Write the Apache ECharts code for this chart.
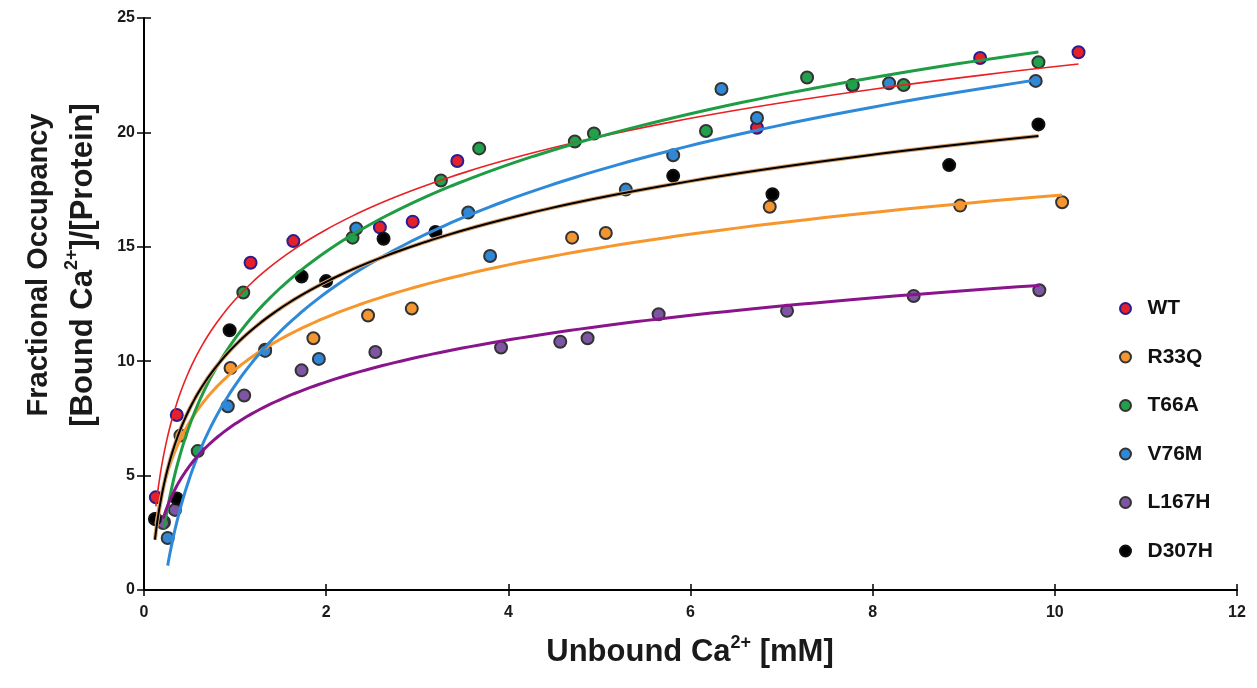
<!DOCTYPE html>
<html>
<head>
<meta charset="utf-8">
<script src="https://cdn.jsdelivr.net/npm/echarts@6/dist/echarts.min.js"></script>
<style>
  html, body { margin: 0; padding: 0; background: #ffffff; }
  #chart { width: 1257px; height: 688px; }
</style>
</head>
<body>
<div id="chart"></div>
<script>
// Calcium binding: [unbound Ca2+ (mM), bound Ca2+ per protein]
const seriesNames = ['WT', 'R33Q', 'T66A', 'V76M', 'L167H', 'D307H'];

const wtPoints = [[0.13, 4.05], [0.36, 7.65], [1.17, 14.3], [1.64, 15.25], [2.59, 15.85], [2.95, 16.1],
  [3.44, 18.75], [6.73, 20.2], [7.78, 22.05], [9.18, 23.25], [10.26, 23.5]];
const r33qPoints = [[0.13, 3.1], [0.40, 6.75], [0.95, 9.7], [1.33, 10.5], [1.86, 11.0], [2.46, 12.0],
  [2.94, 12.3], [4.70, 15.4], [5.07, 15.6], [6.87, 16.75], [8.96, 16.8], [10.08, 16.95]];
const t66aPoints = [[0.22, 2.97], [0.59, 6.07], [1.09, 13.0], [2.29, 15.4], [3.26, 17.9], [3.68, 19.3],
  [4.73, 19.6], [4.94, 19.95], [6.17, 20.06], [7.28, 22.4], [7.78, 22.07], [8.34, 22.07], [9.82, 23.07]];
const v76mPoints = [[0.26, 2.27], [0.92, 8.03], [1.33, 10.45], [1.92, 10.1], [2.33, 15.8], [3.56, 16.5],
  [3.80, 14.6], [5.29, 17.5], [5.81, 19.0], [6.34, 21.9], [6.73, 20.63], [8.18, 22.15], [9.79, 22.25]];
const l167hPoints = [[0.21, 2.93], [0.34, 3.5], [1.10, 8.5], [1.73, 9.6], [2.54, 10.4], [3.92, 10.6],
  [4.57, 10.85], [4.87, 11.0], [5.65, 12.05], [7.06, 12.2], [8.45, 12.85], [9.83, 13.1]];
const d307hPoints = [[0.12, 3.1], [0.36, 4.0], [0.94, 11.35], [1.73, 13.7], [2.0, 13.5], [2.63, 15.35],
  [3.2, 15.65], [5.81, 18.1], [6.9, 17.3], [8.84, 18.57], [9.82, 20.35]];

const xTicks = [0, 2, 4, 6, 8, 10, 12];
const yTicks = [0, 5, 10, 15, 20, 25];

// Styling per variant
const styles = {
  'WT':    { fill: '#e3202b', border: '#2a1d8f', line: '#ea2024', width: 1.6 },
  'R33Q':  { fill: '#f39530', border: '#333333', line: '#f6962c', width: 3 },
  'T66A':  { fill: '#22a04b', border: '#333333', line: '#1f9d44', width: 3 },
  'V76M':  { fill: '#2f87d6', border: '#333333', line: '#2e8ad9', width: 3 },
  'L167H': { fill: '#7e55a2', border: '#333333', line: '#8a148c', width: 3 },
  'D307H': { fill: '#000000', border: '#111111', line: '#000000', width: 2, halo: '#d7a06a' }
};
const pointSets = [wtPoints, r33qPoints, t66aPoints, v76mPoints, l167hPoints, d307hPoints];

// Logarithmic least-squares trend line (y = a*ln(x) + b) over the data's x range
function logTrend(points, steps) {
  const n = points.length;
  let sx = 0, sy = 0, sxx = 0, sxy = 0;
  points.forEach(([x, y]) => { const l = Math.log(x); sx += l; sy += y; sxx += l * l; sxy += l * y; });
  const a = (n * sxy - sx * sy) / (n * sxx - sx * sx);
  const b = (sy - a * sx) / n;
  const xs = points.map(p => p[0]);
  const x0 = Math.min(...xs), x1 = Math.max(...xs);
  const out = [];
  for (let i = 0; i <= steps; i++) {
    const x = x0 * Math.pow(x1 / x0, i / steps);
    out.push([x, a * Math.log(x) + b]);
  }
  return out;
}

const font = '"Liberation Sans", Arial, Helvetica, sans-serif';

const scatterSeries = seriesNames.map((name, i) => ({
  name: name,
  type: 'scatter',
  data: pointSets[i],
  symbol: 'circle',
  symbolSize: 12,
  itemStyle: { color: styles[name].fill, borderColor: styles[name].border, borderWidth: 2, opacity: 1 },
  z: 2
}));

const lineSeries = [];
seriesNames.forEach((name, i) => {
  const st = styles[name];
  const trend = logTrend(pointSets[i], 160);
  if (st.halo) {
    lineSeries.push({
      name: name + ' trend halo', type: 'line', data: trend, showSymbol: false, silent: true,
      lineStyle: { color: st.halo, width: 4 }, z: 3
    });
  }
  lineSeries.push({
    name: name + ' trend', type: 'line', data: trend, showSymbol: false, silent: true,
    lineStyle: { color: st.line, width: st.width }, z: 3
  });
});

const axisBase = {
  min: 0,
  axisLine: { show: true, lineStyle: { color: '#000', width: 2 } },
  splitLine: { show: false }
};

// Title text with a raised "2+" on Ca
function titleRich(size, supSize, lh) {
  return {
    m: { fontSize: size, fontWeight: 'bold', fontFamily: font, fill: '#1a1a1a', lineHeight: lh, verticalAlign: 'bottom' },
    s: { fontSize: supSize, fontWeight: 'bold', fontFamily: font, fill: '#1a1a1a', lineHeight: lh, verticalAlign: 'top' }
  };
}

const option = {
  backgroundColor: '#ffffff',
  animation: false,
  grid: { left: 144, right: 20, top: 18, bottom: 98, containLabel: false },
  xAxis: [
    Object.assign({}, axisBase, {
      type: 'value', max: xTicks[xTicks.length - 1], interval: xTicks[1] - xTicks[0], position: 'bottom',
      axisTick: { show: true, length: 6, lineStyle: { color: '#000', width: 1.5 } },
      axisLabel: { margin: 15, color: '#1a1a1a', fontSize: 16, fontWeight: 'bold', fontFamily: font }
    }),
    Object.assign({}, axisBase, {
      type: 'value', max: xTicks[xTicks.length - 1], interval: xTicks[1] - xTicks[0], position: 'bottom',
      axisLine: { show: false },
      axisTick: { show: true, inside: true, length: 6, lineStyle: { color: '#000', width: 1.5 } },
      axisLabel: { show: false }
    })
  ],
  yAxis: [
    Object.assign({}, axisBase, {
      type: 'value', max: yTicks[yTicks.length - 1], interval: yTicks[1] - yTicks[0], position: 'left',
      axisTick: { show: true, length: 7, lineStyle: { color: '#000', width: 1.5 } },
      axisLabel: { margin: 9, color: '#1a1a1a', fontSize: 16, fontWeight: 'bold', fontFamily: font }
    }),
    Object.assign({}, axisBase, {
      type: 'value', max: yTicks[yTicks.length - 1], interval: yTicks[1] - yTicks[0], position: 'left',
      axisLine: { show: false },
      axisTick: { show: true, inside: true, length: 7, lineStyle: { color: '#000', width: 1.5 } },
      axisLabel: { show: false }
    })
  ],
  legend: {
    data: seriesNames,
    orient: 'vertical',
    left: 1114,
    top: 293,
    itemWidth: 34,
    itemHeight: 11,
    itemGap: 27.5,
    icon: 'circle',
    textStyle: { color: '#111', fontSize: 21, fontWeight: 'bold', fontFamily: font }
  },
  graphic: [
    {
      type: 'text',
      x: 690, y: 651,
      style: {
        text: '{m|Unbound Ca}{s|2+}{m| [mM]}',
        textAlign: 'center', textVerticalAlign: 'middle',
        rich: titleRich(31, 18, 34)
      }
    },
    {
      type: 'text',
      x: 36, y: 265,
      rotation: Math.PI / 2,
      style: {
        text: '{m|Fractional Occupancy}',
        textAlign: 'center', textVerticalAlign: 'middle',
        rich: titleRich(29, 17, 34)
      }
    },
    {
      type: 'text',
      x: 81, y: 265,
      rotation: Math.PI / 2,
      style: {
        text: '{m|[Bound Ca}{s|2+}{m|]/[Protein]}',
        textAlign: 'center', textVerticalAlign: 'middle',
        rich: titleRich(31, 18, 36)
      }
    }
  ],
  series: scatterSeries.concat(lineSeries)
};

const chart = echarts.init(document.getElementById('chart'), null, { renderer: 'canvas' });
chart.setOption(option);
</script>
</body>
</html>
